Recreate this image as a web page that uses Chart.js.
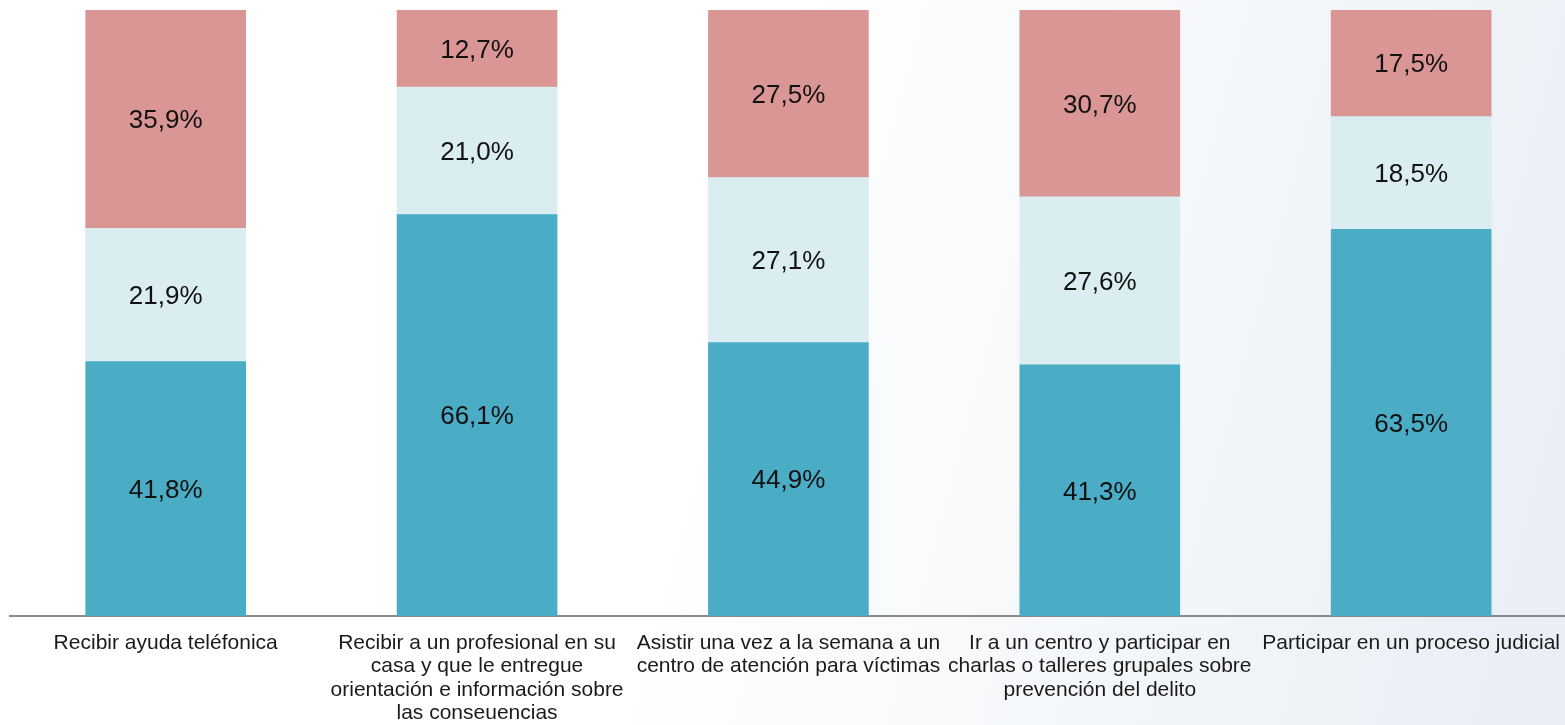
<!DOCTYPE html>
<html>
<head>
<meta charset="utf-8">
<script src="https://cdn.jsdelivr.net/npm/chart.js@4"></script>
<style>
  html, body { margin: 0; padding: 0; }
  body {
    width: 1565px; height: 725px; overflow: hidden;
    background: linear-gradient(105deg, #ffffff 0%, #ffffff 45%, #f3f6f9 75%, #e8eef5 100%);
  }
  #wrap { position: relative; width: 1575px; height: 725px; }
</style>
</head>
<body>
<div id="wrap"><canvas id="chart"></canvas></div>
<script>
const categories = [
  'Recibir ayuda teléfonica',
  ['Recibir a un profesional en su', 'casa y que le entregue', 'orientación e información sobre', 'las conseuencias'],
  ['Asistir una vez a la semana a un', 'centro de atención para víctimas'],
  ['Ir a un centro y participar en', 'charlas o talleres grupales sobre', 'prevención del delito'],
  'Participar en un proceso judicial'
];
const bottomValues = [41.8, 66.1, 44.9, 41.3, 63.5];
const middleValues = [21.9, 21.0, 27.1, 27.6, 18.5];
const topValues    = [35.9, 12.7, 27.5, 30.7, 17.5];

const series = [bottomValues, middleValues, topValues];
const colors = ['#4bacc6', '#daedf0', '#d99694'];
const names = ['Sí', 'No sabe', 'No'];

// 100% stacked: each bar is scaled to its own total
const totals = categories.map((c, i) => series.reduce((s, arr) => s + arr[i], 0));

const fmt = v => v.toFixed(1).replace('.', ',') + '%';

const valueLabels = {
  id: 'valueLabels',
  afterDatasetsDraw(chart) {
    const {ctx} = chart;
    ctx.save();
    ctx.font = '26px "Liberation Sans", Arial, sans-serif';
    ctx.fillStyle = '#111111';
    ctx.textAlign = 'center';
    ctx.textBaseline = 'middle';
    chart.data.datasets.forEach((ds, di) => {
      const meta = chart.getDatasetMeta(di);
      meta.data.forEach((bar, i) => {
        const y = (bar.y + bar.base) / 2 + 2;
        ctx.fillText(fmt(ds.raw[i]), bar.x, y);
      });
    });
    ctx.restore();
  }
};

const ctx = document.getElementById('chart').getContext('2d');

new Chart(ctx, {
  type: 'bar',
  data: {
    labels: categories,
    datasets: series.map((arr, k) => ({
      label: names[k],
      raw: arr,
      data: arr.map((v, i) => v / totals[i] * 100),
      backgroundColor: colors[k],
      borderWidth: 0,
      barThickness: 160
    }))
  },
  options: {
    responsive: true,
    maintainAspectRatio: false,
    animation: false,
    layout: {
      padding: {left: 10, right: 0, top: 10, bottom: 0}
    },
    plugins: {
      legend: {display: false},
      tooltip: {enabled: false},
      title: {display: false}
    },
    scales: {
      x: {
        stacked: true,
        grid: {display: false, drawTicks: false},
        border: {display: true, color: '#8a8a8a', width: 2},
        afterFit(scale) { scale.height = 109; },
        ticks: {
          color: '#1a1a1a',
          padding: 15,
          maxRotation: 0,
          autoSkip: false,
          font: {family: '"Liberation Sans", Arial, sans-serif', size: 21, lineHeight: 1.12}
        }
      },
      y: {
        stacked: true,
        display: false,
        min: 0,
        max: 100
      }
    }
  },
  plugins: [valueLabels]
});
</script>
</body>
</html>
